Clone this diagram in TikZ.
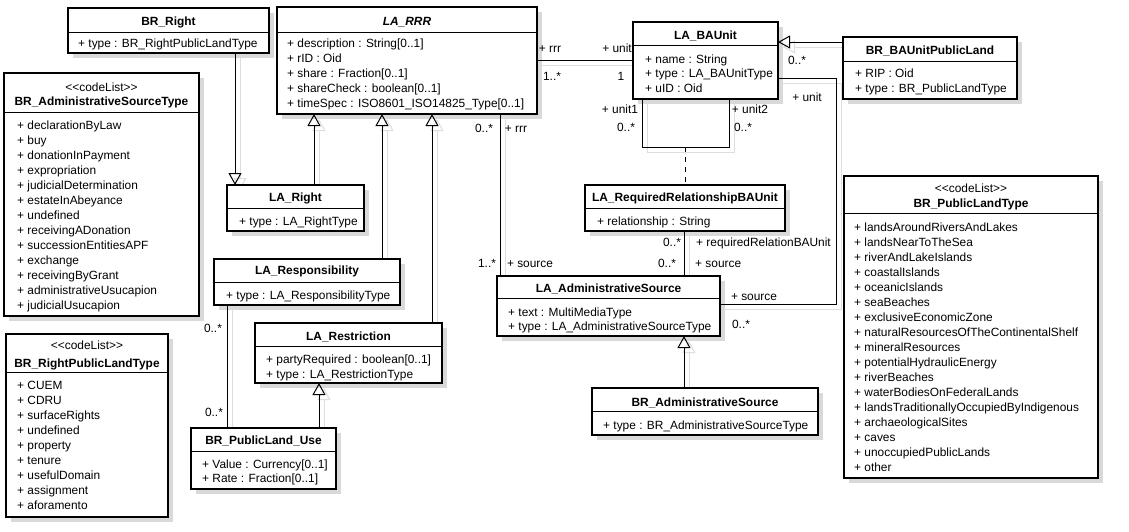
\documentclass[tikz,border=0pt]{standalone}
\usepackage{fontspec}
\newfontfamily\umlfont{Liberation Sans}
\usetikzlibrary{arrows.meta,shadows}
\pgfdeclarelayer{bg}
\pgfsetlayers{bg,main}
\definecolor{boxshadow}{gray}{0.85}
\definecolor{lineshadow}{gray}{0.87}
\newcommand\umlsz{\umlfont\fontsize{11.9}{14}\selectfont}

\tikzset{
  classbox/.style={draw=black, line width=2pt, fill=white, inner sep=0pt, outer sep=0pt,
    drop shadow={shadow xshift=5pt, shadow yshift=-5pt, fill=boxshadow, opacity=1}},
  divider/.style={line width=1pt},
  attr/.style={inner sep=0pt, anchor=base west, font=\umlsz},
  ttl/.style={inner sep=0pt, anchor=base, font=\umlsz\bfseries},
  stereo/.style={inner sep=0pt, anchor=base, font=\umlsz},
  lbl/.style={inner sep=0pt, anchor=base, font=\umlsz},
  lbll/.style={inner sep=0pt, anchor=base west, font=\umlsz},
  assoc/.style={draw=black, line width=1pt},
  assocsh/.style={draw=lineshadow, line width=1pt},
  gen/.style={-{Triangle[open,length=12pt,width=13pt]}},
}

% class box: name, left, top, right, bottom, divider (y measured downwards)
\newcommand\UMLbox[6]{%
  \node[classbox, anchor=north west, minimum width={#4-#2}, minimum height={#5-#3}] (#1) at (#2,-#3) {};
  \draw[divider] (#2,-#6) -- (#4,-#6);}

% connector with its soft shadow on the background layer
\newcommand\umlpath[2][]{%
  \begin{pgfonlayer}{bg}
    \begin{scope}[transform canvas={xshift=5pt,yshift=-5pt}]
      \path[assocsh,#1] #2;
    \end{scope}
  \end{pgfonlayer}
  \path[assoc,#1] #2;}

\begin{document}
\begin{tikzpicture}[x=1pt,y=1pt]
\begin{pgfonlayer}{bg}
  \fill[white] (0,0) rectangle (1129,-531);
\end{pgfonlayer}
\useasboundingbox (0,0) rectangle (1129,-531);

% ---------- classes ----------
\UMLbox{brright}{68}{8}{269}{53}{32}
\node[ttl] (brright-t) at (168.5,-25) {BR\_Right};
\node[attr] (brright-a) at (78,-47) {+ type : BR\_RightPublicLandType};

\UMLbox{rrr}{277}{7}{537}{114}{32}
\node[ttl, font=\umlsz\bfseries\itshape] (rrr-t) at (407,-25) {LA\_RRR};
\foreach \t [count=\i from 0] in {+ description : String[0..1], + rID : Oid, + share : Fraction[0..1], + shareCheck : boolean[0..1], + timeSpec : ISO8601\_ISO14825\_Type[0..1]}
  \node[attr] (rrr-a\i) at (287,{-(47+15*\i)}) {\t};

\UMLbox{baunit}{633}{22}{778}{99}{45}
\node[ttl] (baunit-t) at (705.5,-39) {LA\_BAUnit};
\foreach \t [count=\i from 0] in {+ name : String, + type : LA\_BAUnitType, + uID : Oid}
  \node[attr] (baunit-a\i) at (645,{-(63+14.5*\i)}) {\t};

\UMLbox{brbaunit}{843}{37}{1017}{99}{61}
\node[ttl] (brbaunit-t) at (930,-54) {BR\_BAUnitPublicLand};
\node[attr] (brbaunit-a0) at (855,-77) {+ RIP : Oid};
\node[attr] (brbaunit-a1) at (855,-92) {+ type : BR\_PublicLandType};

\UMLbox{adstype}{4}{73}{199}{316}{112}
\node[stereo] (adstype-s) at (101.5,-91) {<{}<codeList>{}>};
\node[ttl] (adstype-t) at (101.5,-105) {BR\_AdministrativeSourceType};
\foreach \t [count=\i from 0] in {declarationByLaw, buy, donationInPayment, expropriation, judicialDetermination, estateInAbeyance, undefined, receivingADonation, successionEntitiesAPF, exchange, receivingByGrant, administrativeUsucapion, judicialUsucapion}
  \node[attr] (adstype-a\i) at (17,{-(129+15*\i)}) {+ \t};

\UMLbox{rplt}{6}{334}{168}{517}{372}
\node[stereo] (rplt-s) at (87,-349) {<{}<codeList>{}>};
\node[ttl] (rplt-t) at (87,-367) {BR\_RightPublicLandType};
\foreach \t [count=\i from 0] in {CUEM, CDRU, surfaceRights, undefined, property, tenure, usefulDomain, assignment, aforamento}
  \node[attr] (rplt-a\i) at (17,{-(389+15*\i)}) {+ \t};

\UMLbox{laright}{227}{185}{364}{231}{208}
\node[ttl] (laright-t) at (295.5,-201) {LA\_Right};
\node[attr] (laright-a) at (239,-225) {+ type : LA\_RightType};

\UMLbox{laresp}{214}{259}{400}{305}{282}
\node[ttl] (laresp-t) at (307,-274) {LA\_Responsibility};
\node[attr] (laresp-a) at (226,-299) {+ type : LA\_ResponsibilityType};

\UMLbox{larest}{255}{323}{442}{383}{346}
\node[ttl] (larest-t) at (348.5,-340) {LA\_Restriction};
\node[attr] (larest-a0) at (266,-363) {+ partyRequired : boolean[0..1]};
\node[attr] (larest-a1) at (266,-378) {+ type : LA\_RestrictionType};

\UMLbox{bruse}{191}{428}{336}{489}{451}
\node[ttl] (bruse-t) at (263.5,-444) {BR\_PublicLand\_Use};
\node[attr] (bruse-a0) at (202,-468) {+ Value : Currency[0..1]};
\node[attr] (bruse-a1) at (202,-482) {+ Rate : Fraction[0..1]};

\UMLbox{reqrel}{585}{185}{785}{231}{208}
\node[ttl] (reqrel-t) at (685,-201) {LA\_RequiredRelationshipBAUnit};
\node[attr] (reqrel-a) at (597,-225) {+ relationship : String};

\UMLbox{asrc}{497}{276}{720}{336}{298}
\node[ttl] (asrc-t) at (608.5,-292) {LA\_AdministrativeSource};
\node[attr] (asrc-a0) at (508,-316) {+ text : MultiMediaType};
\node[attr] (asrc-a1) at (508,-330) {+ type : LA\_AdministrativeSourceType};

\UMLbox{brasrc}{592}{388}{818}{435}{411}
\node[ttl] (brasrc-t) at (705,-406) {BR\_AdministrativeSource};
\node[attr] (brasrc-a) at (603,-429) {+ type : BR\_AdministrativeSourceType};

\UMLbox{plt}{844}{176}{1098}{478}{213}
\node[stereo] (plt-s) at (971,-192) {<{}<codeList>{}>};
\node[ttl] (plt-t) at (971,-207) {BR\_PublicLandType};
\foreach \t [count=\i from 0] in {landsAroundRiversAndLakes, landsNearToTheSea, riverAndLakeIslands, coastalIslands, oceanicIslands, seaBeaches, exclusiveEconomicZone, naturalResourcesOfTheContinentalShelf, mineralResources, potentialHydraulicEnergy, riverBeaches, waterBodiesOnFederalLands, landsTraditionallyOccupiedByIndigenous, archaeologicalSites, caves, unoccupiedPublicLands, other}
  \node[attr] (plt-a\i) at (854,{-(231+15.06*\i)}) {+ \t};

% ---------- routing guides ----------
\coordinate (gxA) at (235,0);
\coordinate (gxB) at (314,0);
\coordinate (gxC) at (382,0);
\coordinate (gxD) at (432,0);
\coordinate (gxE) at (319,0);
\coordinate (gxF) at (227,0);
\coordinate (gxG) at (500,0);
\coordinate (gxH) at (684,0);
\coordinate (gyA) at (0,-60);
\coordinate (gyB) at (0,-42);
\coordinate (loopL) at (642,-147);
\coordinate (loopR) at (729,-147);
\coordinate (loopM) at (685,-147);
\coordinate (bendTop) at (836,-78);
\coordinate (bendBot) at (836,-304);

% ---------- generalizations ----------
\umlpath[gen]{(brright.south -| gxA) -- (laright.north -| gxA)}
\umlpath[gen]{(laright.north -| gxB) -- (rrr.south -| gxB)}
\umlpath[gen]{(laresp.north -| gxC) -- (rrr.south -| gxC)}
\umlpath[gen]{(larest.north -| gxD) -- (rrr.south -| gxD)}
\umlpath[gen]{(bruse.north -| gxE) -- (larest.south -| gxE)}
\umlpath[gen]{(brbaunit.west |- gyB) -- (baunit.east |- gyB)}
\umlpath[gen]{(brasrc.north -| gxH) -- (asrc.south -| gxH)}

% ---------- associations ----------
\umlpath{(laresp.south -| gxF) -- (bruse.north -| gxF)}
\umlpath{(rrr.east |- gyA) -- (baunit.west |- gyA)}
\umlpath{(rrr.south -| gxG) -- (asrc.north -| gxG)}
\umlpath{(baunit.south -| loopL) -- (loopL) -- (loopR) -- (baunit.south -| loopR)}
\draw[line width=1pt, dash pattern=on 5pt off 5pt] (loopM) -- (reqrel.north -| loopM);
\umlpath{(reqrel.south -| gxH) -- (asrc.north -| gxH)}
\umlpath{(baunit.east |- bendTop) -- (bendTop) -- (bendBot) -- (asrc.east |- bendBot)}

% ---------- role names and multiplicities ----------
\node[lbl] (m1) at (213,-332) {0..*};
\node[lbl] (m2) at (214,-416) {0..*};
\node[lbl] (m3) at (550,-52) {+ rrr};
\node[lbl] (m4) at (552,-80) {1..*};
\node[lbl] (m5) at (617,-52) {+ unit};
\node[lbl] (m6) at (621,-80) {1};
\node[lbl] (m7) at (484,-132) {0..*};
\node[lbl] (m8) at (516,-132) {+ rrr};
\node[lbl] (m9) at (620,-113) {+ unit1};
\node[lbl] (m10) at (626,-131) {0..*};
\node[lbl] (m11) at (750,-113) {+ unit2};
\node[lbl] (m12) at (743,-131) {0..*};
\node[lbl] (m13) at (797,-64) {0..*};
\node[lbl] (m14) at (807,-101) {+ unit};
\node[lbl] (m15) at (487,-267) {1..*};
\node[lbl] (m16) at (530,-267) {+ source};
\node[lbl] (m17) at (672,-246) {0..*};
\node[lbll] (m18) at (696,-246) {+ requiredRelationBAUnit};
\node[lbl] (m19) at (667,-267) {0..*};
\node[lbll] (m20) at (695,-267) {+ source};
\node[lbl] (m21) at (754,-300) {+ source};
\node[lbl] (m22) at (741,-328) {0..*};
\end{tikzpicture}
\end{document}
